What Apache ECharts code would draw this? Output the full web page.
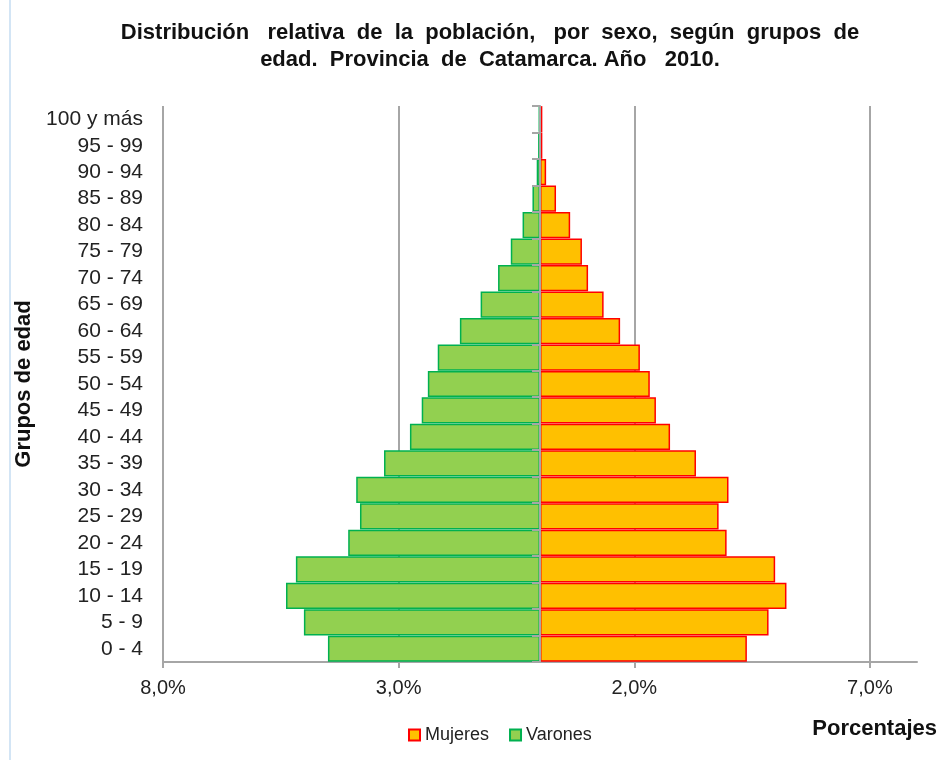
<!DOCTYPE html>
<html>
<head>
<meta charset="utf-8">
<script src="https://cdn.jsdelivr.net/npm/echarts@6/dist/echarts.min.js"></script>
<style>
html,body{margin:0;padding:0;background:#fff;}
#c{width:951px;height:760px;}
</style>
</head>
<body>
<div id="c"></div>
<script>
// Age groups, bottom to top
var categories = ['0 - 4','5 - 9','10 - 14','15 - 19','20 - 24','25 - 29','30 - 34','35 - 39','40 - 44','45 - 49','50 - 54','55 - 59','60 - 64','65 - 69','70 - 74','75 - 79','80 - 84','85 - 89','90 - 94','95 - 99','100 y más'];
// Percent of population
var mujeres = [4.39, 4.85, 5.23, 4.99, 3.96, 3.79, 4.00, 3.31, 2.76, 2.46, 2.33, 2.12, 1.70, 1.35, 1.02, 0.89, 0.64, 0.34, 0.13, 0.05, 0.05];
var varones = [4.50, 5.01, 5.39, 5.18, 4.07, 3.82, 3.90, 3.31, 2.76, 2.51, 2.38, 2.17, 1.70, 1.26, 0.89, 0.62, 0.37, 0.16, 0.07, 0.04, 0.03];
var xTicks = [-8, -3, 2, 7];

var FONT = "'Liberation Sans', Arial, sans-serif";
var chart = echarts.init(document.getElementById('c'), null, {renderer: 'canvas'});
var option = {
  animation: false,
  backgroundColor: '#ffffff',
  title: {
    text: 'Distribución   relativa  de  la  población,   por  sexo,  según  grupos  de\nedad.  Provincia  de  Catamarca. Año   2010.',
    left: 485,
    top: 14,
    textAlign: 'center',
    textStyle: {fontFamily: FONT, fontWeight: 'bold', fontSize: 22, color: '#111', lineHeight: 27}
  },
  legend: {
    data: ['Mujeres', 'Varones'],
    left: 403,
    top: 721,
    itemWidth: 11,
    itemHeight: 11,
    itemGap: 20,
    icon: 'rect',
    textStyle: {fontFamily: FONT, fontSize: 18, color: '#222'}
  },
  grid: {left: 163, right: 34, top: 106, bottom: 98, containLabel: false},
  xAxis: {
    type: 'value',
    min: -8,
    max: 8,
    interval: 5,
    axisLine: {show: true, lineStyle: {color: '#a6a6a6', width: 2}},
    axisTick: {show: true, length: 6, lineStyle: {color: '#a6a6a6', width: 2}},
    splitLine: {show: true, showMaxLine: false, lineStyle: {color: '#a6a6a6', width: 2}},
    axisLabel: {
      showMaxLabel: false,
      margin: 16,
      fontFamily: FONT, fontSize: 20, color: '#222',
      formatter: function (v) { return Math.abs(v).toFixed(1).replace('.', ',') + '%'; }
    }
  },
  yAxis: [{
    type: 'category',
    data: categories,
    position: 'left',
    axisLine: {show: false, onZero: false},
    axisTick: {show: false},
    axisLabel: {interval: 0, fontFamily: FONT, fontSize: 21, color: '#222', margin: 20},
    name: 'Grupos de edad',
    nameLocation: 'middle',
    nameRotate: 90,
    nameGap: 126,
    nameTextStyle: {fontFamily: FONT, fontWeight: 'bold', fontSize: 22, color: '#111'}
  }, {
    type: 'category',
    data: categories,
    axisLine: {show: true, onZero: true, lineStyle: {color: '#a6a6a6', width: 2}},
    axisTick: {show: true, inside: true, length: 8, interval: 0, lineStyle: {color: '#a6a6a6', width: 2}},
    axisLabel: {show: false},
    z: 5
  }],
  series: [{
    name: 'Mujeres',
    type: 'bar',
    yAxisIndex: 0,
    data: mujeres,
    barGap: '-100%',
    barCategoryGap: '1%',
    itemStyle: {color: '#ffc000', borderColor: '#ff0000', borderWidth: 1.5}
  }, {
    name: 'Varones',
    type: 'bar',
    yAxisIndex: 0,
    data: varones.map(function (v) { return -v; }),
    barGap: '-100%',
    barCategoryGap: '1%',
    itemStyle: {color: '#92d050', borderColor: '#00b050', borderWidth: 1.5}
  }],
  graphic: [{
    type: 'text',
    right: 14,
    top: 718,
    style: {text: 'Porcentajes', fontFamily: FONT, fontWeight: 'bold', fontSize: 22, fill: '#111'}
  }, {
    type: 'line',
    shape: {x1: 10, y1: 0, x2: 10, y2: 760},
    style: {stroke: '#c5dcf2', lineWidth: 1.5}
  }]
};
chart.setOption(option);
</script>
</body>
</html>
